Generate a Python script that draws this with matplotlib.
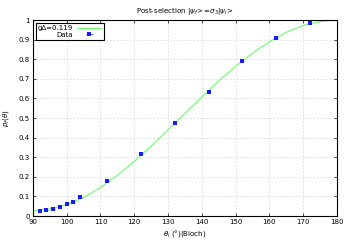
import numpy as np
import matplotlib
matplotlib.use("Agg")
import matplotlib.pyplot as plt

# measured points
theta_data = [92, 94, 96, 98, 100, 102, 104, 112, 122, 132, 142, 152, 162, 172]
p_data = [0.026, 0.032, 0.038, 0.048, 0.062, 0.073, 0.095, 0.180, 0.318,
          0.475, 0.635, 0.790, 0.910, 0.985]
x_err = [0.4] * len(theta_data)

# fitted curve
theta_fit = [90, 95, 100, 105, 110, 115, 120, 125, 130, 135, 140, 145,
             150, 155, 160, 165, 170, 175, 180]
p_fit = [0.028, 0.036, 0.058, 0.095, 0.146, 0.208, 0.279, 0.357, 0.440,
         0.524, 0.608, 0.690, 0.765, 0.832, 0.890, 0.938, 0.973, 0.993, 1.0]

plt.rcParams['font.family'] = ['DejaVu Sans']
fig = plt.figure(figsize=(3.5, 2.45), dpi=100)
ax = fig.add_axes([0.094, 0.118, 0.869, 0.8])

ax.plot(theta_fit, p_fit, color='#66ff66', lw=0.8, label='gΔ=0.119')
ax.errorbar(theta_data, p_data, xerr=x_err, fmt='s', ms=2.2, mew=0,
            color='#1a1aff', elinewidth=0.5, capsize=0.8, capthick=0.5,
            label='Data')

ax.set_xlim(90, 180)
ax.set_ylim(0, 1)
ax.set_xticks(range(90, 181, 10))
ax.set_yticks(np.arange(0, 1.01, 0.1))
ax.set_yticklabels(['0', '0.1', '0.2', '0.3', '0.4', '0.5', '0.6', '0.7',
                    '0.8', '0.9', '1'])
ax.tick_params(direction='in', top=True, right=True, labelsize=5, length=2,
               width=0.5, pad=2)
ax.grid(True, color='#c8c8c8', ls=(0, (3, 3)), lw=0.4)
for s in ax.spines.values():
    s.set_linewidth(0.8)

ax.set_title(r'Post-selection $|\psi_f\!>\!=\!\sigma_3|\psi_i\!>$', fontsize=5, pad=5)
ax.set_xlabel(r'$\theta_i$ (°)(Bloch)', fontsize=5, labelpad=2)
ax.set_ylabel(r'$p_f(\theta)$', fontsize=5, labelpad=6)

leg = ax.legend(loc='upper left', fontsize=5, markerfirst=False, fancybox=False,
                edgecolor='black', framealpha=1, handlelength=3.5,
                borderpad=0.3, labelspacing=0.1, borderaxespad=0.4,
                handletextpad=0.6)
leg.get_frame().set_linewidth(0.8)
# right-align the entries like gnuplot does
for col in leg._legend_handle_box.get_children():
    col.align = 'right'

fig.savefig('out.png', dpi=100)
